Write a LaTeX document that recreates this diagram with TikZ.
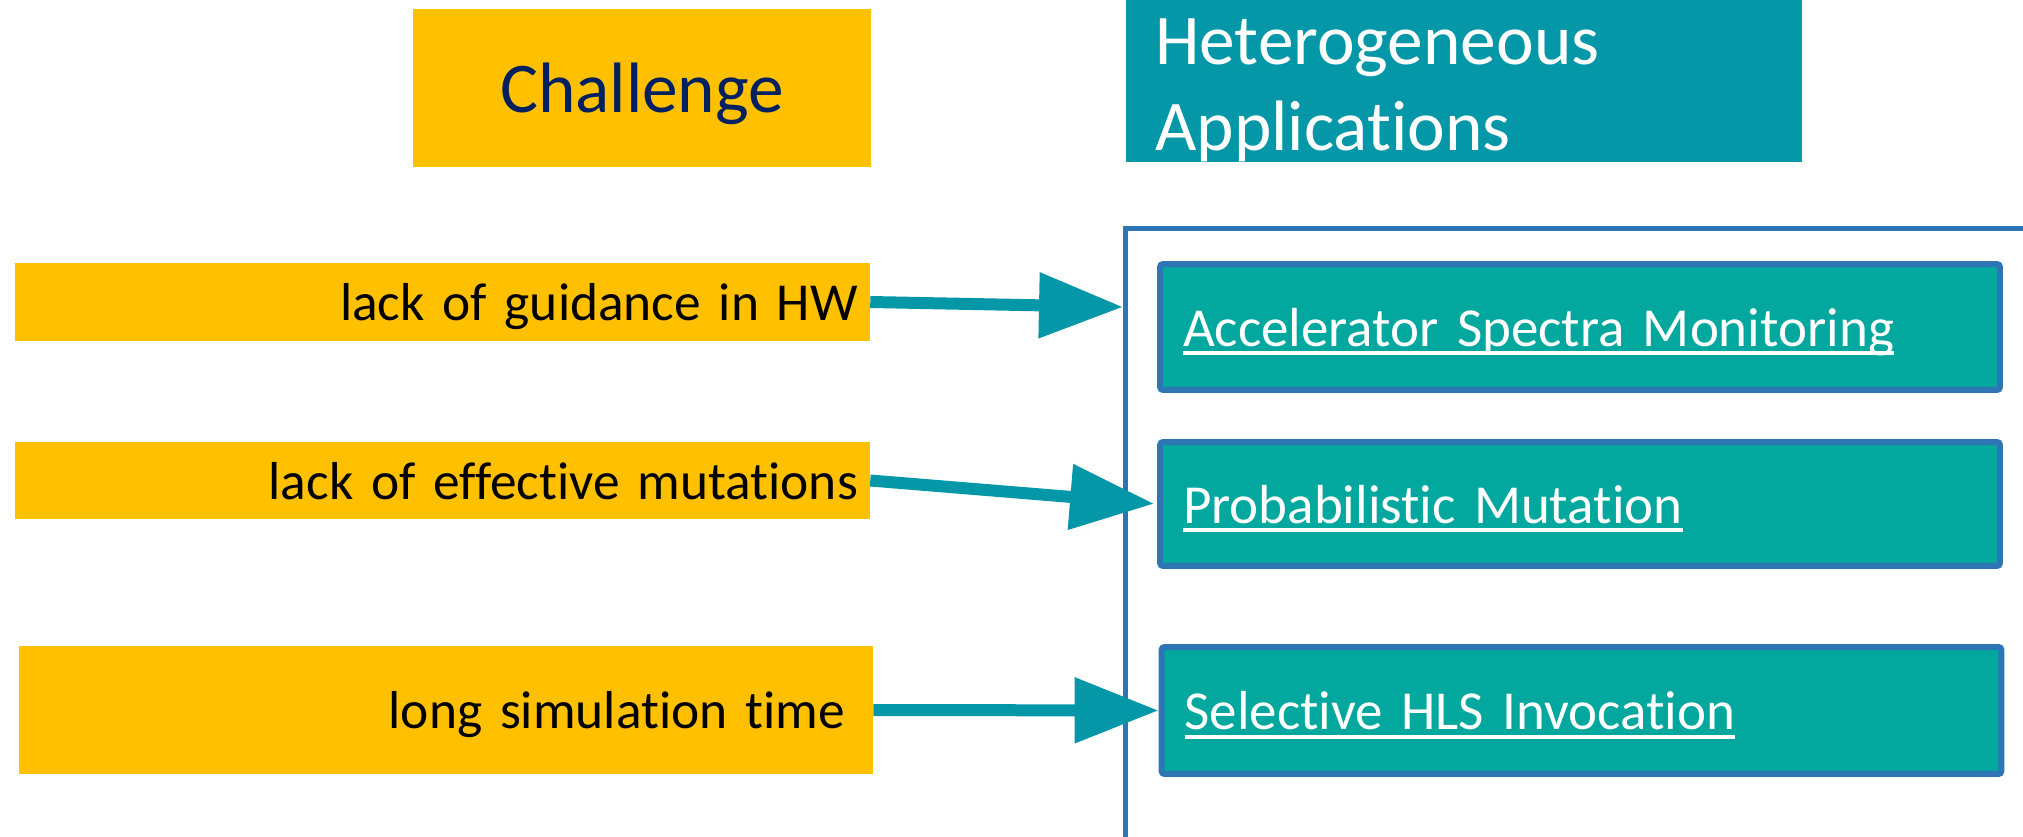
\documentclass[tikz,border=0pt]{standalone}
\usepackage{fontspec}
\setmainfont{Carlito}[Ligatures=NoCommon]
\usetikzlibrary{arrows.meta}
\definecolor{cyellow}{HTML}{FFC000}
\definecolor{cnavy}{HTML}{002060}
\definecolor{cteal}{HTML}{0397A8}
\definecolor{cgreen}{HTML}{02A89E}
\definecolor{cblue}{HTML}{2E75B6}
\newcommand\myul[1]{\setbox0=\hbox{#1}\rlap{\rule[-0.18cm]{\wd0}{0.08cm}}\box0}
\begin{document}
\begin{tikzpicture}[x=0.02cm,y=-0.02cm,
  ybox/.style={fill=cyellow, draw=none, inner ysep=0pt, text depth=0pt},
  ltext/.style={ybox, font=\fontsize{30.4}{37}\selectfont, text=black, align=right},
  appbox/.style={draw=cblue, line width=0.12cm, fill=cgreen, rounded corners=0.06cm,
    text=white, font=\fontsize{31.3}{37}\selectfont, align=left, inner xsep=0.46cm,
    inner ysep=0pt, text width=15.88cm, minimum width=16.8cm, text depth=0pt},
  conn/.style={draw=cteal, line width=0.24cm, -{Triangle[length=1.68cm,width=1.26cm]}},
  frameline/.style={draw=cblue, line width=0.1cm}
]
\useasboundingbox (0,0) rectangle (2023,837);
\clip (0,0) rectangle (2023,837);

% headers
\node[ybox, minimum width=9.16cm, minimum height=3.16cm, text=cnavy,
  font=\fontsize{40.6}{48}\selectfont] (chal) at (642,88) {Challenge};
\node[fill=cteal, draw=none, minimum width=13.52cm, minimum height=3.24cm] (het) at (1464,81) {};
\node[anchor=base west, inner sep=0pt, text=white, font=\fontsize{40.6}{48.9}\selectfont] (hett) at (1155,65)
  {\begin{tabular}[t]{@{}l@{}}Heterogeneous\\Applications\end{tabular}};

% frame
\draw[frameline] (1125,900) -- (1125,229) -- (2100,229);

% challenge boxes
\node[ltext, minimum width=17.1cm, minimum height=1.56cm, inner xsep=0.24cm, text width=16.62cm] (b1) at (442.5,302) {lack of guidance in HW};
\node[ltext, minimum width=17.1cm, minimum height=1.54cm, inner xsep=0.24cm, text width=16.62cm] (b2) at (442.5,480.5) {lack of effective mutations};
\node[ltext, minimum width=17.08cm, minimum height=2.56cm, inner xsep=0.56cm, text width=15.96cm] (b3) at (446,710) {long simulation time};

% application boxes
\node[appbox, minimum height=2.52cm] (a1) at (1580,327) {\myul{Accelerator Spectra Monitoring}};
\node[appbox, minimum height=2.48cm] (a2) at (1580,504) {\myul{Probabilistic Mutation}};
\node[appbox, minimum height=2.54cm] (a3) at (1581.5,710.5) {\myul{Selective HLS Invocation}};

% connectors
\coordinate (t1) at (1123,307);
\draw[conn] (b1.east) -- (t1);
\draw[conn, shorten >=0.06cm] (b2.east) -- (a2.west);
\draw[conn] (b3.east) -- (a3.west);
\end{tikzpicture}
\end{document}
